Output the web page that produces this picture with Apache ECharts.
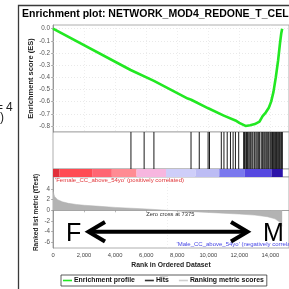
<!DOCTYPE html>
<html>
<head>
<meta charset="utf-8">
<script src="https://cdn.jsdelivr.net/npm/echarts@6/dist/echarts.min.js"></script>
<style>
  html, body { margin: 0; padding: 0; background: #fff; }
  #chart { width: 289px; height: 289px; }
</style>
</head>
<body>
<div id="chart"></div>
<script>
// running enrichment score
const esRanks = [0, 5000, 5020, 6500, 6520, 8680, 8900, 10000, 11000, 11750, 12000, 12400, 12700, 13000, 13300, 13500, 13700, 13900, 14050, 14200, 14350, 14500, 14620, 14700, 14760];
const esValues = [0, -0.34, -0.335, -0.43, -0.425, -0.575, -0.585, -0.655, -0.715, -0.755, -0.775, -0.8, -0.795, -0.785, -0.765, -0.72, -0.69, -0.65, -0.6, -0.52, -0.4, -0.26, -0.12, -0.04, 0];

// positions of the gene set members in the ranked list
const hitRanks = [5020, 5870, 6500, 8890, 9420, 9990, 10080, 10840, 11010, 11220, 11430, 11600, 11750, 11960,
  12280, 12330, 12380, 12460, 12520, 12570, 12640, 12730, 12810, 12870, 12960, 13010, 13090, 13190, 13250,
  13310, 13410, 13480, 13530, 13600, 13660, 13730, 13790, 13850, 13900, 13980, 14030, 14090, 14140, 14190,
  14240, 14290, 14340, 14390, 14440, 14490, 14540, 14580, 14630, 14690, 14730, 14770];

// ranking metric (tTest) along the list
const metricRanks = [0, 100, 300, 600, 1000, 1500, 2000, 3000, 4000, 5000, 6000, 7000, 7375, 8000, 9000, 10000, 11000, 12000, 13000, 13800, 14300, 14600, 14760];
const metricValues = [3.6, 2.6, 2.0, 1.6, 1.3, 1.1, 0.95, 0.75, 0.55, 0.4, 0.25, 0.08, 0, -0.12, -0.25, -0.4, -0.55, -0.7, -0.9, -1.2, -1.6, -2.2, -3.0];

// colour bar blocks (rank edges)
const colorBarEdges = [0, 425, 2520, 3790, 5380, 7280, 9190, 10710, 12360, 14070, 14800];
const colorBarPalette = ['#e0303a', '#ff4b53', '#ff6673', '#ff8b93', '#f7b6df', '#ceceF9', '#bcbcf4', '#7a78ee', '#5648e0', '#2c14a8'];

const esTicks = [0, -0.1, -0.2, -0.3, -0.4, -0.5, -0.6, -0.7, -0.8];
const metricTicks = [4, 2, 0, -2, -4, -6];
const zeroCross = 7375;

const FONT = "'Liberation Sans', Arial, sans-serif";
const xMax = 15200;
const gridLeft = 53;
const gridWidth = 239.4;

const chart = echarts.init(document.getElementById('chart'));

const gridBox = (top, height) => ({
  left: gridLeft, width: gridWidth, top: top, height: height,
  show: true, backgroundColor: '#fff', borderColor: '#9a9a9a', borderWidth: 0.8
});

const hiddenX = (i) => ({
  type: 'value', gridIndex: i, min: 0, max: xMax, interval: 2000,
  axisLine: { show: false }, axisTick: { show: false }, axisLabel: { show: false },
  splitLine: { show: i === 0, lineStyle: { color: '#e2e2e2', width: 0.6, type: [1, 2] } }
});

const segments = colorBarEdges.slice(0, -1).map((e, i) => [e, colorBarEdges[i + 1], i]);

chart.setOption({
  animation: false,
  textStyle: { fontFamily: FONT },
  grid: [gridBox(25, 107), gridBox(132, 37), gridBox(169, 8), gridBox(177, 71)],
  xAxis: [
    hiddenX(0), hiddenX(1), hiddenX(2),
    {
      type: 'value', gridIndex: 3, min: 0, max: xMax, interval: 2000,
      name: 'Rank in Ordered Dataset', nameLocation: 'middle', nameGap: 14,
      nameTextStyle: { fontSize: 6.8, fontWeight: 'bold', color: '#222' },
      axisLine: { lineStyle: { color: '#888', width: 0.8 } },
      axisTick: { length: 2, lineStyle: { color: '#888', width: 0.6 } },
      axisLabel: {
        fontSize: 5.8, color: '#444', margin: 4, showMaxLabel: false,
        formatter: (v) => v.toLocaleString('en-US')
      },
      splitLine: { show: false }
    }
  ],
  yAxis: [
    {
      type: 'value', gridIndex: 0, min: -0.85, max: 0.03,
      name: 'Enrichment score (ES)', nameLocation: 'middle', nameGap: 18, nameMoveOverlap: false,
      nameTextStyle: { fontSize: 7.5, fontWeight: 'bold', color: '#222' },
      axisLine: { show: true, lineStyle: { color: '#888', width: 0.8 } },
      axisTick: { show: true, length: 2, customValues: esTicks, lineStyle: { color: '#888', width: 0.6 } },
      axisLabel: { customValues: esTicks, fontSize: 6.3, color: '#555', margin: 3, formatter: (v) => v.toFixed(1) },
      splitLine: { show: false }
    },
    { type: 'value', gridIndex: 1, min: 0, max: 1, show: false },
    { type: 'value', gridIndex: 2, min: 0, max: 1, show: false },
    {
      type: 'value', gridIndex: 3, min: -7.06, max: 6.24,
      name: 'Ranked list metric (tTest)', nameLocation: 'middle', nameGap: 13, nameMoveOverlap: false,
      nameTextStyle: { fontSize: 6.5, fontWeight: 'bold', color: '#222' },
      axisLine: { show: true, lineStyle: { color: '#888', width: 0.8 } },
      axisTick: { show: true, length: 2, customValues: metricTicks, lineStyle: { color: '#888', width: 0.6 } },
      axisLabel: { customValues: metricTicks, fontSize: 6.3, color: '#555', margin: 3 },
      splitLine: { show: false }
    }
  ],
  legend: {
    data: [
      { name: 'Enrichment profile', itemStyle: { color: '#22e822' } },
      { name: 'Hits', itemStyle: { color: '#333' } },
      { name: 'Ranking metric scores', itemStyle: { color: '#cfcfcf' } }
    ],
    left: 61, top: 275, icon: 'rect', itemWidth: 9, itemHeight: 1.6, itemGap: 10,
    padding: [2, 3, 2, 2], borderColor: '#333', borderWidth: 0.8,
    textStyle: { fontSize: 6.9, fontWeight: 'bold', color: '#111', padding: [0, 0, 0, -3] },
    selectedMode: false
  },
  series: [
    {
      name: 'Enrichment profile', type: 'line', xAxisIndex: 0, yAxisIndex: 0, z: 3,
      data: esRanks.map((r, i) => [r, esValues[i]]),
      showSymbol: false, color: '#22e822',
      lineStyle: { color: '#22e822', width: 2.6 },
      markLine: {
        silent: true, symbol: ['none', 'none'], label: { show: false }, z: 1,
        lineStyle: { color: '#dadada', width: 0.6, type: [1, 2] },
        data: esTicks.map((v) => ({ yAxis: v }))
      }
    },
    {
      name: 'Hits', type: 'custom', xAxisIndex: 1, yAxisIndex: 1,
      itemStyle: { color: '#333' },
      data: hitRanks.map((r) => [r]),
      encode: { x: 0 },
      renderItem: (params, api) => {
        const x = api.coord([api.value(0), 0])[0];
        const cs = params.coordSys;
        return {
          type: 'line',
          shape: { x1: x, y1: cs.y, x2: x, y2: cs.y + cs.height },
          style: { stroke: '#1a1a1a', lineWidth: 1 }
        };
      }
    },
    {
      name: 'colour bar', type: 'custom', xAxisIndex: 2, yAxisIndex: 2,
      data: segments,
      encode: { x: [0, 1] },
      renderItem: (params, api) => {
        const p0 = api.coord([api.value(0), 1]);
        const p1 = api.coord([api.value(1), 0]);
        return {
          type: 'rect',
          shape: { x: p0[0], y: p0[1], width: p1[0] - p0[0], height: p1[1] - p0[1] },
          style: { fill: colorBarPalette[api.value(2)] }
        };
      }
    },
    {
      name: 'Ranking metric scores', type: 'line', xAxisIndex: 3, yAxisIndex: 3,
      data: metricRanks.map((r, i) => [r, metricValues[i]]),
      showSymbol: false, color: '#cfcfcf',
      lineStyle: { color: '#b0b0b0', width: 0.5 },
      areaStyle: { color: '#b3b3b3', opacity: 1 },
      markLine: {
        silent: true, symbol: ['none', 'none'], label: { show: false },
        lineStyle: { color: '#e4e4e4', width: 0.6, type: [1, 2] },
        data: [{ xAxis: zeroCross }]
      },
      markPoint: {
        silent: true, symbol: 'circle', symbolSize: 1,
        itemStyle: { color: 'rgba(0,0,0,0)' },
        label: { show: true, position: 'inside', fontSize: 5.8, color: '#333', formatter: 'Zero cross at ' + zeroCross },
        data: [{ coord: [zeroCross + 180, -0.75] }]
      }
    }
  ],
  graphic: [
    { type: 'rect', shape: { x: 18.5, y: 5.5, width: 300, height: 300 }, style: { fill: 'none', stroke: '#3a3a3a', lineWidth: 1.3 }, z: 10 },
    { type: 'text', x: 22, y: 14.5, style: { text: 'Enrichment plot: NETWORK_MOD4_REDONE_T_CELLS', fontSize: 10.5, fontWeight: 'bold', fontFamily: FONT, fill: '#000', verticalAlign: 'middle' } },
    { type: 'text', x: 55, y: 180.5, z: 10, style: { text: "'Female_CC_above_54yo' (positively correlated)", fontSize: 6, fontFamily: FONT, fill: '#e0363a', verticalAlign: 'middle' } },
    { type: 'text', x: 176.5, y: 244.5, z: 10, style: { text: "'Male_CC_above_54yo' (negatively correlated)", fontSize: 6, fontFamily: FONT, fill: '#4646e6', verticalAlign: 'middle' } },
    { type: 'line', shape: { x1: 160, y1: 276.5, x2: 168, y2: 276.5 }, style: { stroke: '#d8d8d8', lineWidth: 1 }, z: 10 },
    // hand-drawn F <-> M annotation
    { type: 'text', x: 66, y: 234.5, z: 10, style: { text: 'F', fontSize: 25, fontFamily: FONT, fill: '#000', verticalAlign: 'middle' } },
    { type: 'text', x: 263, y: 234.5, z: 10, style: { text: 'M', fontSize: 25, fontFamily: FONT, fill: '#000', verticalAlign: 'middle' } },
    { type: 'line', shape: { x1: 90, y1: 231.7, x2: 246, y2: 231.7 }, style: { stroke: '#000', lineWidth: 4 }, z: 10 },
    { type: 'polyline', shape: { points: [[105, 222], [88.5, 231.7], [105, 241.5]] }, style: { stroke: '#000', lineWidth: 4, fill: null }, z: 10 },
    { type: 'polyline', shape: { points: [[231, 222], [247.5, 231.7], [231, 241.5]] }, style: { stroke: '#000', lineWidth: 4, fill: null }, z: 10 },
    // fragments of the neighbouring figure
    { type: 'text', x: -4, y: 108, style: { text: '=', fontSize: 12, fontFamily: FONT, fill: '#222', verticalAlign: 'middle' } },
    { type: 'text', x: 6, y: 108, style: { text: '4', fontSize: 12, fontFamily: FONT, fill: '#222', verticalAlign: 'middle' } },
    { type: 'text', x: 0, y: 117.5, style: { text: ')', fontSize: 12, fontFamily: FONT, fill: '#222', verticalAlign: 'middle' } }
  ]
});
</script>
</body>
</html>
